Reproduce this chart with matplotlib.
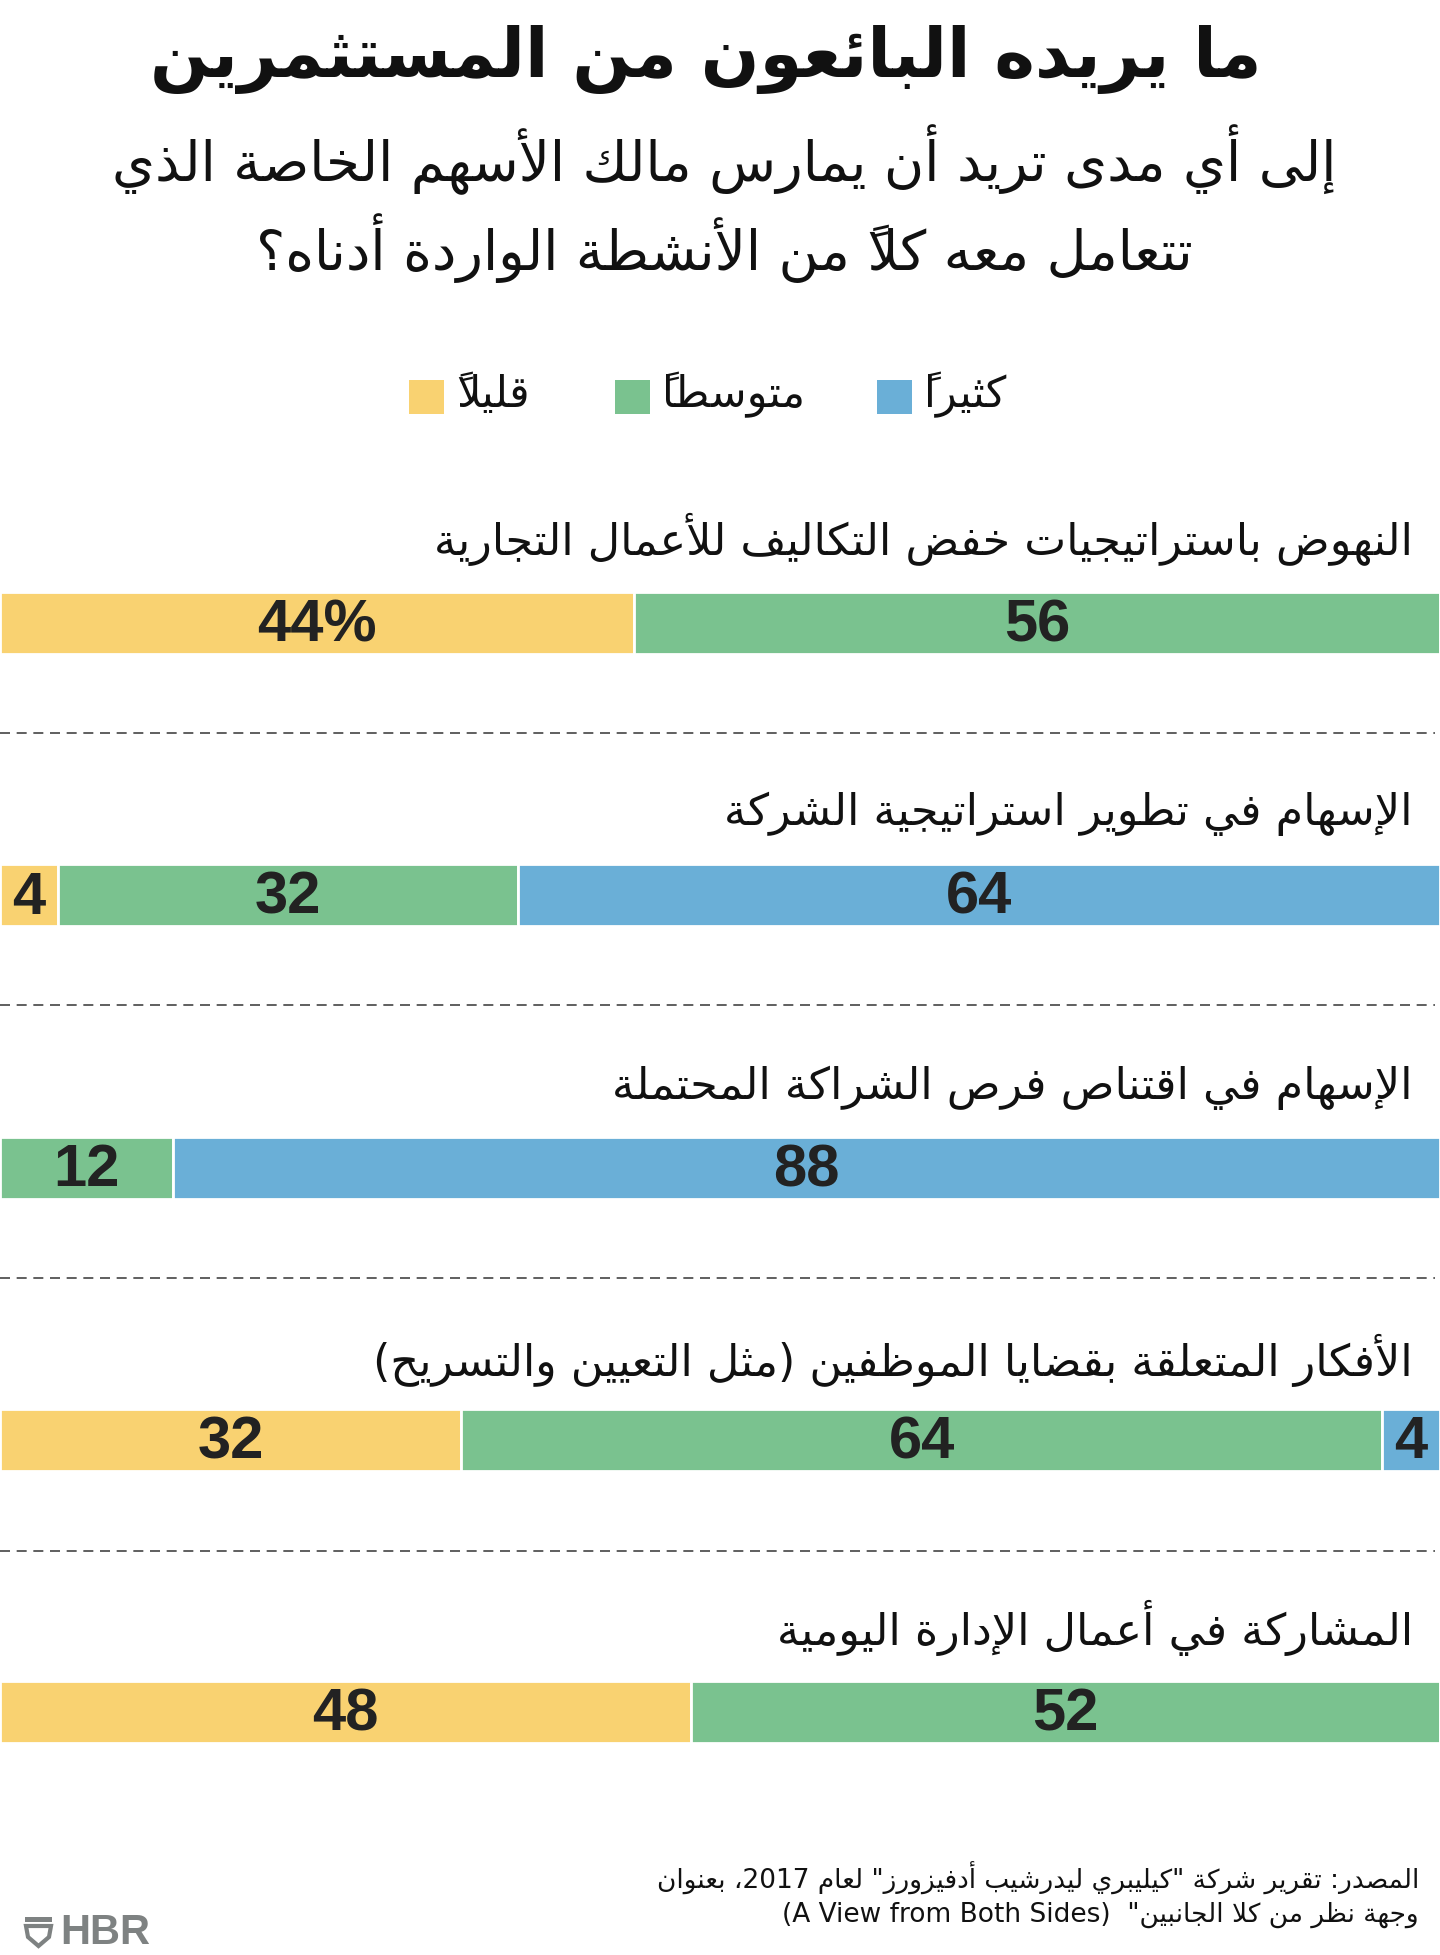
import matplotlib
matplotlib.use("Agg")
import matplotlib.pyplot as plt
from matplotlib.patches import Rectangle, Polygon

# ---------------- data ----------------
title = "ما يريده البائعون من المستثمرين"
subtitle = ["إلى أي مدى تريد أن يمارس مالك الأسهم الخاصة الذي",
            "تتعامل معه كلاً من الأنشطة الواردة أدناه؟"]
legend_labels = ["كثيراً", "متوسطاً", "قليلاً"]  # much, moderate, little
categories = [
    "النهوض باستراتيجيات خفض التكاليف للأعمال التجارية",
    "الإسهام في تطوير استراتيجية الشركة",
    "الإسهام في اقتناص فرص الشراكة المحتملة",
    "الأفكار المتعلقة بقضايا الموظفين (مثل التعيين والتسريح)",
    "المشاركة في أعمال الإدارة اليومية",
]
little = [44, 4, 0, 32, 48]
moderate = [56, 32, 12, 64, 52]
much = [0, 64, 88, 4, 0]
source = ['المصدر: تقرير شركة "كيليبري ليدرشيب أدفيزورز" لعام 2017، بعنوان',
          'وجهة نظر من كلا الجانبين"  (A View from Both Sides)']

# ---------------- styles ----------------
C_LITTLE = "#F9D271"
C_MOD = "#7AC28F"
C_MUCH = "#6AAFD7"
TXT = "#111111"
NUM = "#222222"
AR = ["DejaVu Sans"]
NUMFONT = ["Liberation Sans", "DejaVu Sans"]

# ---------------- minimal Arabic shaping + bidi ----------------
LETTERS = {0x0621: (0xFE80, 1), 0x0622: (0xFE81, 2), 0x0623: (0xFE83, 2), 0x0624: (0xFE85, 2),
           0x0625: (0xFE87, 2), 0x0626: (0xFE89, 4), 0x0627: (0xFE8D, 2), 0x0628: (0xFE8F, 4),
           0x0629: (0xFE93, 2), 0x062A: (0xFE95, 4), 0x062B: (0xFE99, 4), 0x062C: (0xFE9D, 4),
           0x062D: (0xFEA1, 4), 0x062E: (0xFEA5, 4), 0x062F: (0xFEA9, 2), 0x0630: (0xFEAB, 2),
           0x0631: (0xFEAD, 2), 0x0632: (0xFEAF, 2), 0x0633: (0xFEB1, 4), 0x0634: (0xFEB5, 4),
           0x0635: (0xFEB9, 4), 0x0636: (0xFEBD, 4), 0x0637: (0xFEC1, 4), 0x0638: (0xFEC5, 4),
           0x0639: (0xFEC9, 4), 0x063A: (0xFECD, 4), 0x0641: (0xFED1, 4), 0x0642: (0xFED5, 4),
           0x0643: (0xFED9, 4), 0x0644: (0xFEDD, 4), 0x0645: (0xFEE1, 4), 0x0646: (0xFEE5, 4),
           0x0647: (0xFEE9, 4), 0x0648: (0xFEED, 2), 0x0649: (0xFEEF, 2), 0x064A: (0xFEF1, 4)}
LAMALEF = {0x0622: 0xFEF5, 0x0623: 0xFEF7, 0x0625: 0xFEF9, 0x0627: 0xFEFB}
MIRROR = {"(": ")", ")": "(", "[": "]", "]": "["}


def is_mark(c):
    o = ord(c)
    return 0x064B <= o <= 0x0652 or o == 0x0670


def ar(s):
    chars = list(s)
    units = []
    i = 0
    while i < len(chars):
        c = chars[i]
        o = ord(c)
        if is_mark(c):
            if units:
                units[-1]["marks"] += c
            i += 1
            continue
        if o == 0x0644:
            j = i + 1
            mk = ""
            while j < len(chars) and is_mark(chars[j]):
                mk += chars[j]
                j += 1
            if j < len(chars) and ord(chars[j]) in LAMALEF:
                units.append({"lig": LAMALEF[ord(chars[j])], "t": "R", "marks": mk})
                i = j + 1
                continue
        if o in LETTERS:
            st, n = LETTERS[o]
            units.append({"start": st, "n": n, "t": "D" if n == 4 else ("R" if n == 2 else "U"), "marks": ""})
        else:
            units.append({"ch": c, "t": "U", "marks": ""})
        i += 1
    glyphs = []
    for k, u in enumerate(units):
        prev = units[k - 1] if k > 0 else None
        nxt = units[k + 1] if k + 1 < len(units) else None
        jp = u["t"] in "DR" and prev is not None and prev["t"] == "D"
        jn = u["t"] == "D" and nxt is not None and nxt["t"] in "DR"
        if "lig" in u:
            g = chr(u["lig"] + (1 if jp else 0))
        elif "start" in u:
            if u["n"] == 4:
                off = 3 if (jp and jn) else (1 if jp else (2 if jn else 0))
            elif u["n"] == 2:
                off = 1 if jp else 0
            else:
                off = 0
            g = chr(u["start"] + off)
        else:
            g = u["ch"]
        glyphs.append((g, u["marks"]))
    isL = [g.isascii() and g.isalnum() for g, _ in glyphs]
    runs = []
    k = 0
    n = len(glyphs)
    while k < n:
        if isL[k]:
            j = k
            last = k
            while j < n and glyphs[j][0].isascii():
                if isL[j]:
                    last = j
                j += 1
            runs.append(("L", glyphs[k:last + 1]))
            k = last + 1
        else:
            runs.append(("R", glyphs[k]))
            k += 1
    out = ""
    for kind, item in reversed(runs):
        if kind == "L":
            out += "".join(g + m for g, m in item)
        else:
            g, m = item
            out += m + MIRROR.get(g, g)
    return out


# ---------------- layout (pixels) ----------------
W, H = 1440, 1956
fig = plt.figure(figsize=(W / 100, H / 100), dpi=100)
fig.patch.set_facecolor("white")
ax = fig.add_axes([0, 0, 1, 1])
ax.set_xlim(0, 100)
ax.set_ylim(H, 0)
ax.axis("off")


def px(x):
    return x / W * 100


bar_y = [624, 896, 1169, 1441, 1713]
label_y = [539, 814, 1088, 1360, 1628]
dash_y = [734, 1006, 1279, 1552]
BAR_H = 62
RIGHT = 1413

# title + subtitle
ax.text(px(706), 60, ar(title), family=AR, fontweight="bold", fontsize=49.5, color=TXT,
        ha="center", va="center")
for yy, line in zip([160, 248], subtitle):
    ax.text(px(724), yy, ar(line), family=AR, fontsize=39.5, color=TXT, ha="center", va="center")

# legend
leg_sq_x = [877, 615, 409]
leg_cols = [C_MUCH, C_MOD, C_LITTLE]
for sx, lab, col in zip(leg_sq_x, legend_labels, leg_cols):
    ax.add_patch(Rectangle((px(sx), 381), px(35), 34, facecolor=col, edgecolor="none"))
    ax.text(px(sx + 47), 395, ar(lab), family=AR, fontsize=31, color=TXT, ha="left", va="center")

# bars
lefts1 = little
lefts2 = [a + b for a, b in zip(little, moderate)]
ax.barh(bar_y, little, height=BAR_H, left=0, color=C_LITTLE, edgecolor="white", linewidth=2)
ax.barh(bar_y, moderate, height=BAR_H, left=lefts1, color=C_MOD, edgecolor="white", linewidth=2)
ax.barh(bar_y, much, height=BAR_H, left=lefts2, color=C_MUCH, edgecolor="white", linewidth=2)

for i in range(len(categories)):
    ax.text(px(RIGHT), label_y[i], ar(categories[i]), family=AR, fontsize=32, color=TXT,
            ha="right", va="center")
    segs = [(0, little[i]), (little[i], moderate[i]), (lefts2[i], much[i])]
    for j, (l, v) in enumerate(segs):
        if v <= 0:
            continue
        s = f"{v}%" if (i == 0 and j == 0) else f"{v}"
        ax.text(l + v / 2, bar_y[i] + 2, s, family=NUMFONT, fontweight="bold", fontsize=43,
                color=NUM, ha="center", va="center")

for yy in dash_y:
    ax.plot([0, px(1435)], [yy, yy], color="#444444", lw=1.2, ls=(0, (6, 4)))

# source
for yy, line in zip([1878, 1915], source):
    ax.text(px(1419), yy, ar(line), family=AR, fontsize=19, color=TXT, ha="right", va="center")

# HBR logo
GREY = "#7E8282"
ax.add_patch(Rectangle((px(25), 1918), px(27), 5, facecolor=GREY, edgecolor="none"))
ax.add_patch(Polygon([(px(26), 1927), (px(51), 1927), (px(49), 1938), (px(38.5), 1947),
                      (px(28), 1938)], closed=True, facecolor="none", edgecolor=GREY, lw=3))
ax.text(px(60), 1933, "HBR", family=NUMFONT, fontweight="bold", fontsize=30, color=GREY,
        ha="left", va="center")

fig.savefig("out.png", dpi=100)
